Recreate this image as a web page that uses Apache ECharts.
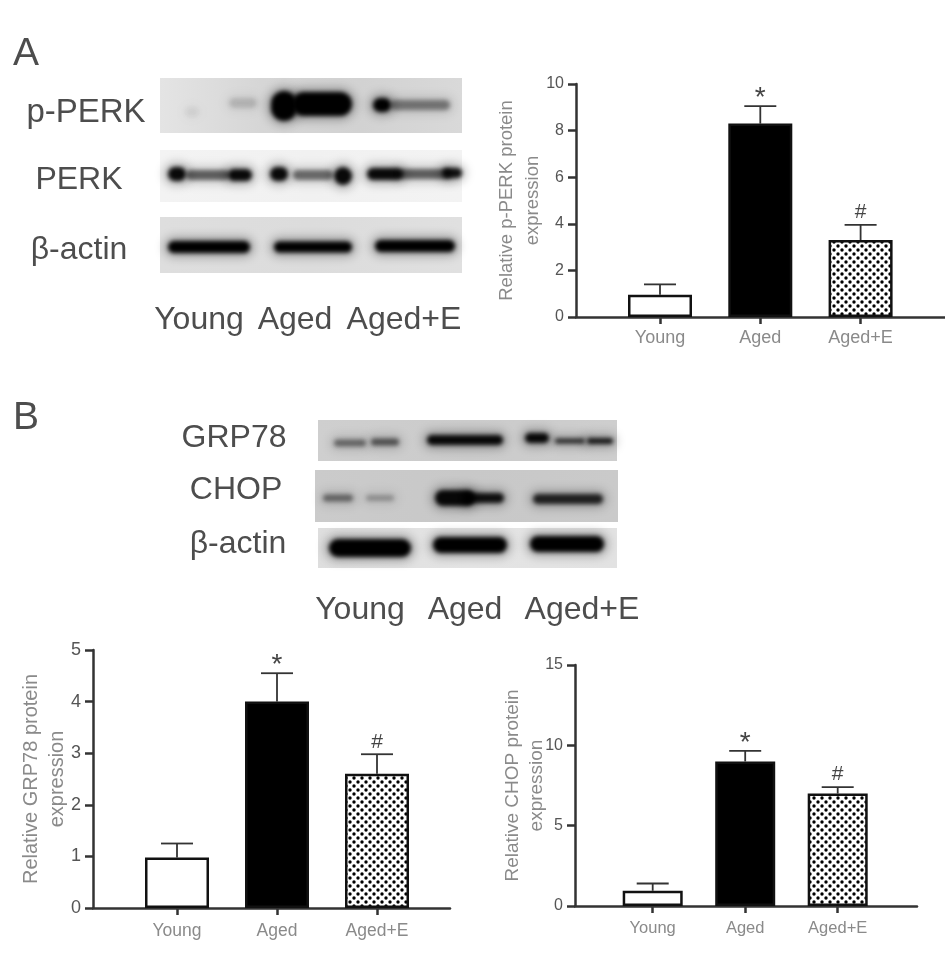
<!DOCTYPE html>
<html>
<head>
<meta charset="utf-8">
<style>
  html, body { margin: 0; padding: 0; background: #fff; }
  #main { width: 945px; height: 960px; filter: blur(0.5px); }
</style>
<script src="https://cdn.jsdelivr.net/npm/echarts@6/dist/echarts.min.js"></script>
</head>
<body>
<div id="main"></div>
<script>
// values
var groups = ['Young', 'Aged', 'Aged+E'];
var groupPos = [1, 2, 3];
var marks = ['', '*', '#'];

var perkMeans = [0.95, 8.3, 3.3];
var perkErrTops = [1.4, 9.05, 3.95];
var grpMeans = [0.98, 4.0, 2.6];
var grpErrTops = [1.25, 4.55, 2.98];
var chopMeans = [0.95, 9.0, 7.0];
var chopErrTops = [1.4, 9.65, 7.4];

var font = '"Liberation Sans", Arial, sans-serif';

// staggered dots of the third bar
function dotPattern() {
    var c = document.createElement('canvas');
    c.width = 8;
    c.height = 8;
    var ctx = c.getContext('2d');
    ctx.fillStyle = '#fff';
    ctx.fillRect(0, 0, 8, 8);
    ctx.fillStyle = '#000';
    [[2, 2], [6, 6]].forEach(function (p) {
        ctx.beginPath();
        ctx.arc(p[0], p[1], 1.7, 0, Math.PI * 2);
        ctx.fill();
    });
    return c;
}
var pattern = { image: dotPattern(), repeat: 'repeat' };

// one entry per bar chart: layout is kept here, values stay in the arrays above
var charts = [
    { means: perkMeans, tops: perkErrTops, name: 'Relative p-PERK protein\nexpression',
      left: 576, right: 945, top: 84, bottom: 317, first: 660, band: 100.3, barWidth: 64,
      max: 10, interval: 2, nameSize: 18.5, nameGap: 30, nameLine: 26, tickSize: 16, catSize: 18, catMargin: 12 },
    { means: grpMeans, tops: grpErrTops, name: 'Relative GRP78 protein\nexpression',
      left: 93, right: 450, top: 650, bottom: 908, first: 177, band: 100, barWidth: 64,
      max: 5, interval: 1, nameSize: 20, nameGap: 23, nameLine: 26, tickSize: 18, catSize: 17.5, catMargin: 14 },
    { means: chopMeans, tops: chopErrTops, name: 'Relative CHOP protein\nexpression',
      left: 575, right: 917, top: 665, bottom: 906, first: 652.7, band: 92.5, barWidth: 60,
      max: 15, interval: 5, nameSize: 19, nameGap: 26, nameLine: 24, tickSize: 16, catSize: 16.5, catMargin: 14 }
];

function errorBars(params, api) {
    var x = api.value(0);
    var base = api.coord([x, api.value(1)]);
    var top = api.coord([x, api.value(2)]);
    var mark = marks[params.dataIndex];
    var line = { stroke: '#333', lineWidth: 1.8 };
    var children = [
        { type: 'line', shape: { x1: base[0], y1: base[1], x2: top[0], y2: top[1] }, style: line },
        { type: 'line', shape: { x1: top[0] - 16, y1: top[1], x2: top[0] + 16, y2: top[1] }, style: line }
    ];
    if (mark) {
        children.push({
            type: 'text',
            style: {
                text: mark, x: top[0], y: top[1] + (mark === '*' ? 6 : -2),
                fill: '#444', font: (mark === '*' ? 28 : 21) + 'px ' + font,
                textAlign: 'center', textVerticalAlign: 'bottom'
            }
        });
    }
    return { type: 'group', children: children };
}

var grids = [], xAxes = [], yAxes = [], series = [];
charts.forEach(function (c, i) {
    grids.push({ left: c.left, top: c.top, width: c.right - c.left, height: c.bottom - c.top });
    xAxes.push({
        gridIndex: i,
        type: 'value',
        min: 1 - (c.first - c.left) / c.band,
        max: 1 + (c.right - c.first) / c.band,
        splitLine: { show: false },
        axisLine: { onZero: false, lineStyle: { color: '#333', width: 2.5 } },
        axisTick: { show: true, customValues: groupPos, length: 7, lineStyle: { color: '#333', width: 2.5 } },
        axisLabel: {
            customValues: groupPos, color: '#8a8a8a', fontFamily: font, fontSize: c.catSize, margin: c.catMargin,
            formatter: function (v) { return groups[v - 1]; }
        }
    });
    yAxes.push({
        gridIndex: i,
        type: 'value',
        min: 0,
        max: c.max,
        interval: c.interval,
        name: c.name,
        nameLocation: 'middle',
        nameGap: c.nameGap,
        nameMoveOverlap: false,
        nameTextStyle: { color: '#8a8a8a', fontFamily: font, fontSize: c.nameSize, lineHeight: c.nameLine },
        splitLine: { show: false },
        axisLine: { show: true, onZero: false, lineStyle: { color: '#333', width: 2.5 } },
        axisTick: { show: true, length: 8, lineStyle: { color: '#333', width: 2.5 } },
        axisLabel: { color: '#555', fontFamily: font, fontSize: c.tickSize, margin: 12 }
    });
    series.push({
        type: 'bar',
        xAxisIndex: i,
        yAxisIndex: i,
        barWidth: c.barWidth,
        data: c.means.map(function (v, k) {
            return {
                value: [groupPos[k], v],
                itemStyle: {
                    color: k === 0 ? '#fff' : (k === 1 ? '#000' : pattern),
                    borderColor: '#111',
                    borderWidth: 2.5
                }
            };
        })
    });
    series.push({
        type: 'custom',
        xAxisIndex: i,
        yAxisIndex: i,
        renderItem: errorBars,
        encode: { x: 0, y: 2 },
        data: c.means.map(function (v, k) { return [groupPos[k], v, c.tops[k]]; }),
        z: 1
    });
});

// western blots are photographs in the source: painted once on a blurred canvas
function blotPanels() {
    var c = document.createElement('canvas');
    c.width = 945;
    c.height = 960;
    var ctx = c.getContext('2d');

    [
        [160, 78, 302, 55, ['#e4e4e4', '#d6d6d6', '#d2d2d2', '#d9d9d9']],
        [160, 150, 302, 52, ['#f3f3f3', '#f1f1f1', '#f3f3f3']],
        [160, 217, 302, 56, ['#dedede', '#dcdcdc', '#e0e0e0']],
        [318, 420, 299, 41, ['#cfcfcf', '#cbcbcb', '#cecece']],
        [315, 470, 303, 52, ['#cbcbcb', '#c8c8c8', '#cacaca']],
        [318, 528, 299, 40, ['#dedede', '#e4e4e4', '#e2e2e2']]
    ].forEach(function (p) {
        var g = ctx.createLinearGradient(p[0], 0, p[0] + p[2], 0);
        p[4].forEach(function (s, i) { g.addColorStop(i / (p[4].length - 1), s); });
        ctx.filter = 'blur(0.6px)';
        ctx.fillStyle = g;
        ctx.fillRect(p[0], p[1], p[2], p[3]);
    });

    // cx, cy, half width, half height, strength
    var bands = [
        // p-PERK
        [243, 103, 14, 5, 0.14], [192, 112, 7, 5, 0.05],
        [284, 106, 13, 15, 1], [322, 104, 30, 12, 1],
        [382, 105, 9, 7, 1], [420, 105, 30, 5, 0.4],
        // PERK
        [177, 174, 9, 7, 0.95], [208, 175, 22, 5, 0.55], [240, 175, 12, 6, 0.95],
        [279, 174, 9, 7, 0.95], [313, 175, 20, 5, 0.5], [343, 176, 9, 9, 0.95],
        [385, 174, 18, 6, 0.95], [425, 174, 27, 5, 0.55], [452, 173, 10, 5, 0.9],
        // beta-actin, panel A
        [209, 247, 41, 6, 1], [313, 247, 39, 5.5, 1], [415, 246, 40, 6, 1],
        // GRP78
        [350, 443, 16, 3.5, 0.45], [385, 442, 14, 3.5, 0.55],
        [465, 440, 38, 5, 0.95],
        [537, 438, 12, 5, 0.95], [570, 441, 15, 2.5, 0.75], [600, 441, 13, 3, 0.85],
        // CHOP
        [338, 498, 15, 3.5, 0.45], [380, 498, 14, 3, 0.25],
        [455, 498, 20, 8, 0.95], [483, 498, 21, 5, 0.9],
        [568, 499, 35, 5, 0.8],
        // beta-actin, panel B
        [370, 548, 41, 9, 1], [470, 545, 37, 8, 1], [567, 544, 37, 8, 1]
    ];
    function paint(b, spread, alpha) {
        var rx = b[2] + spread, ry = b[3] + spread;
        ctx.globalAlpha = alpha * b[4];
        ctx.fillStyle = '#000';
        ctx.beginPath();
        ctx.roundRect(b[0] - rx, b[1] - ry, rx * 2, ry * 2, ry);
        ctx.fill();
    }
    ctx.filter = 'blur(5px)';
    bands.forEach(function (b) { paint(b, 4, 0.3); });
    ctx.filter = 'blur(2px)';
    bands.forEach(function (b) { paint(b, 0, 1); });
    ctx.globalAlpha = 1;
    ctx.filter = 'none';
    return c;
}

function label(text, x, y, size) {
    return {
        type: 'text', z: 2,
        style: { text: text, x: x, y: y, fill: '#4d4d4d', font: size + 'px ' + font,
                 textAlign: 'center', textVerticalAlign: 'middle' }
    };
}

var blotImage = {
    type: 'image', silent: true, z: 0,
    style: { image: blotPanels(), x: 0, y: 0, width: 945, height: 960 }
};

var texts = [
    label('A', 26, 54, 39), label('B', 26, 418, 39),
    label('p-PERK', 86, 113, 33), label('PERK', 79, 180, 32), label('β-actin', 79, 250, 32),
    label('Young', 199, 320, 32), label('Aged', 295, 320, 32), label('Aged+E', 404, 320, 32),
    label('GRP78', 234, 438, 32), label('CHOP', 236, 490, 32), label('β-actin', 238, 544, 32),
    label('Young', 360, 610, 32), label('Aged', 465, 610, 32), label('Aged+E', 582, 610, 32)
];

var chart = echarts.init(document.getElementById('main'));
chart.setOption({
    animation: false,
    backgroundColor: '#fff',
    grid: grids,
    xAxis: xAxes,
    yAxis: yAxes,
    series: series,
    graphic: [blotImage].concat(texts)
});
</script>
</body>
</html>
